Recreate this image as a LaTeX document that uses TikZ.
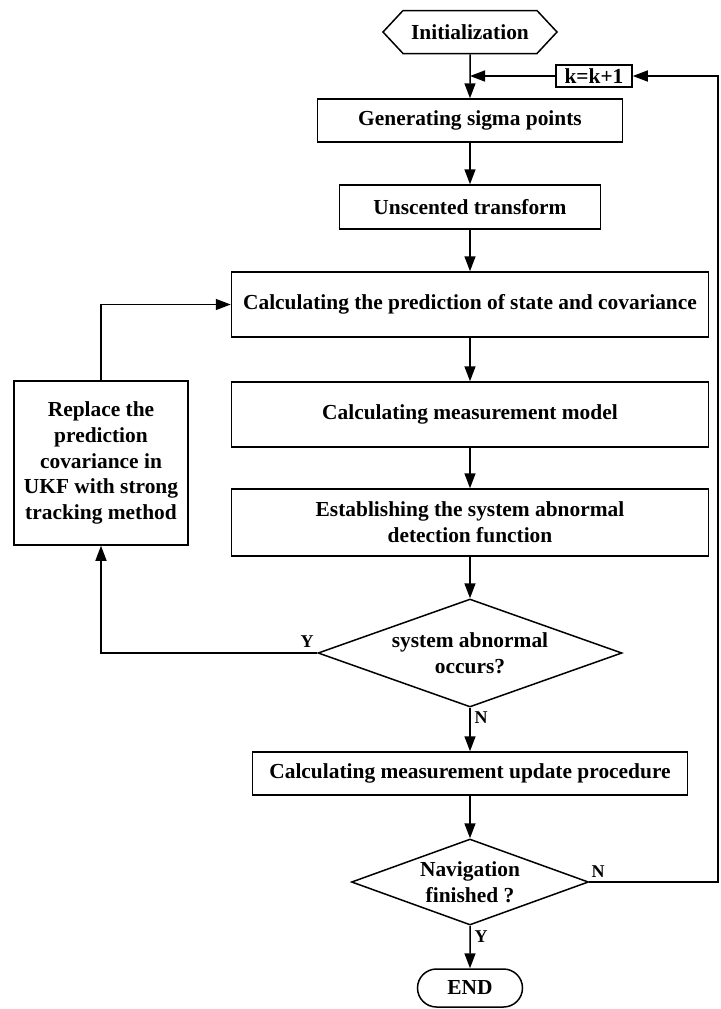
\documentclass[tikz,border=0pt]{standalone}
\usepackage{fontspec}
\setmainfont{Liberation Serif}
\usepackage{xcolor}
\usepackage{tikz}
\usetikzlibrary{arrows.meta}
\usetikzlibrary{positioning}
\usetikzlibrary{shapes.geometric,shapes.symbols,shapes.misc}
\usepackage{amsmath}

\begin{document}
\begin{tikzpicture}[x=0.5pt,y=-0.5pt,line width=0.75pt,
    font=\fontsize{10.7}{12.9}\selectfont\bfseries,
    caja/.style={draw,rectangle,align=center,inner sep=1pt},
    decision/.style={draw,diamond,align=center,inner sep=0pt,aspect=2.8},
    flecha/.style={-{Triangle[length=7.5pt,width=5.5pt]}},
    etiqueta/.style={font=\fontsize{9}{10}\selectfont\bfseries,inner sep=1pt}]
        \useasboundingbox (0,0) rectangle (720,1009);

        % Inicio y contador
        \node[draw,signal,signal to=west and east,signal pointer angle=94,
              minimum width=87pt,minimum height=21.5pt,inner sep=1pt] (init) at (470,32) {Initialization};
        \node[caja,minimum width=38pt,minimum height=11pt] (kk) at (594,76) {k=k+1};
        \coordinate (jn) at (470,76);
        \coordinate (rt) at (718,76);

        % Pasos del filtro
        \node[caja,minimum width=152.5pt,minimum height=21.5pt] (gen) at (470,120.5) {Generating sigma points};
        \node[caja,minimum width=130.5pt,minimum height=22pt] (ut) at (470,207) {Unscented transform};
        \node[caja,minimum width=238.5pt,minimum height=32.5pt] (pred) at (470,304.5) {Calculating the prediction of state and covariance};
        \node[caja,minimum width=238.5pt,minimum height=32.5pt] (meas) at (470,414.5) {Calculating measurement model};
        \node[caja,minimum width=238.5pt,minimum height=33.5pt] (est) at (470,522.5) {Establishing the system abnormal\\detection function};

        % Decisiones
        \node[decision,minimum width=152pt,minimum height=54pt] (abn) at (470,653) {system abnormal\\occurs?};
        \node[caja,minimum width=217.5pt,minimum height=21.5pt] (upd) at (470,773.5) {Calculating measurement update procedure};
        \node[decision,aspect=2.75,minimum width=118.5pt,minimum height=43pt] (nav) at (470,882) {Navigation\\finished ?};
        \node[draw,rounded rectangle,minimum width=54.5pt,minimum height=19pt,inner sep=1pt] (fin) at (470,988) {END};

        % Rama de seguimiento fuerte
        \node[caja,minimum width=87pt,minimum height=82pt] (repl) at (101,463) {Replace the\\prediction\\covariance in\\UKF with strong\\tracking method};

        % Conexiones
        \draw[flecha] (init) -- (gen);
        \draw[flecha] (kk) -- (jn);
        \draw[flecha] (gen) -- (ut);
        \draw[flecha] (ut) -- (pred);
        \draw[flecha] (pred) -- (meas);
        \draw[flecha] (meas) -- (est);
        \draw[flecha] (est) -- (abn);
        \draw[flecha] (abn) -- (upd);
        \draw[flecha] (upd) -- (nav);
        \draw[flecha] (nav) -- (fin);
        \draw[flecha] (abn) -| (repl);
        \draw[flecha] (repl) |- (pred);
        \draw[flecha] (nav.east) -| (rt) -- (kk);

        % Etiquetas
        \node[etiqueta] (ly1) at (307,642) {Y};
        \node[etiqueta] (ln1) at (481,718) {N};
        \node[etiqueta] (ln2) at (598,872) {N};
        \node[etiqueta] (ly2) at (481,937) {Y};
    \end{tikzpicture}
\end{document}
